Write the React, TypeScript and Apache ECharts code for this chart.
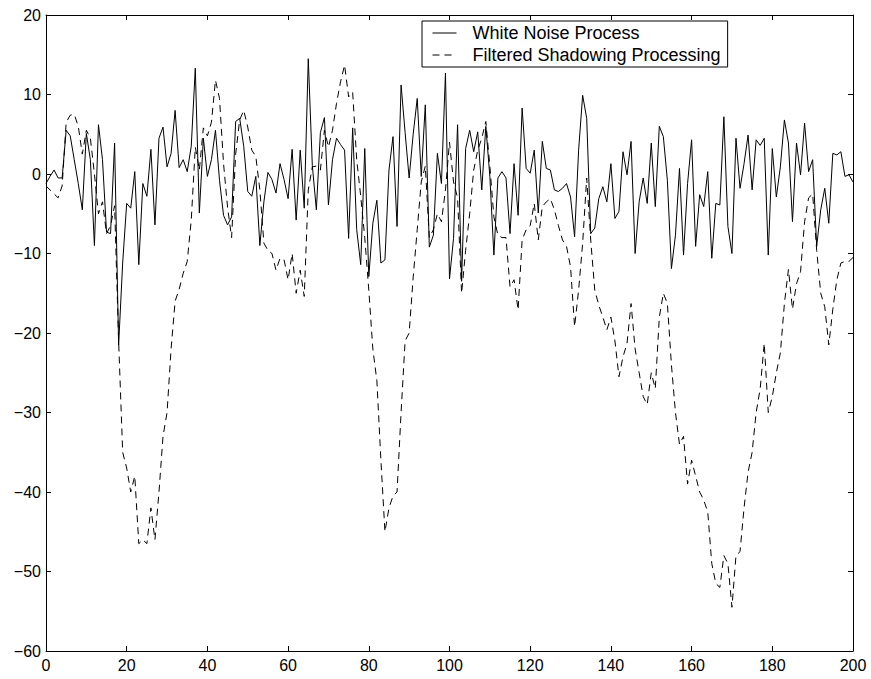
import React, { useEffect, useRef } from "react";
import * as echarts from "echarts";

// Sample index 0..200 (x) -> values
const whiteNoise: number[] = [
  -1.2, -0.3, 0.5, -0.5, -0.5, 5.5, 4.8, 1.8, -1.2, -4.5,
  5.1, 1.8, -9.0, 6.2, 1.8, -7.3, -7.5, 3.9, -21.5, -11.2,
  -3.7, -4.3, 0.3, -11.4, -1.2, -2.8, 3.1, -6.4, 4.5, 5.9,
  0.9, 2.6, 8.0, 0.8, 1.8, 0.3, 3.5, 13.3, -4.9, 4.5,
  -0.3, 1.8, 5.5, -0.8, -5.2, -6.4, -5.4, 6.6, 7.0, 3.5,
  -2.2, -2.8, -0.3, -9.0, -3.5, 0.2, -0.7, -2.4, 1.3, -0.7,
  -3.1, 3.1, -5.8, 3.0, -4.3, 14.5, 1.1, -4.5, 5.2, 7.1,
  -3.9, 1.8, 4.5, 3.7, 3.0, -8.1, 5.8, -7.0, -11.4, 3.2,
  -12.9, -6.2, -3.3, -11.2, -10.8, 0.5, 4.7, -6.6, 11.2, 5.2,
  -0.5, 5.0, 9.5, -0.3, 8.7, -9.2, -7.7, 2.6, -1.2, 12.7,
  -13.2, -8.1, 6.2, -13.5, 3.2, 5.5, 2.8, 5.3, -2.0, 6.0,
  -0.3, -10.2, -0.5, 0.3, -0.5, -7.5, 1.3, -5.2, 8.3, 0.7,
  0.1, 3.0, -4.9, 4.1, 0.7, 0.5, -2.0, -2.2, -1.8, -1.2,
  -2.9, -7.9, 3.0, 9.9, 7.0, -7.5, -6.8, -3.1, -1.6, -3.5,
  1.3, -5.6, -4.7, 2.8, -0.1, 4.1, -10.0, -3.5, -0.5, -3.7,
  3.9, -4.1, 6.0, 4.7, -0.8, -11.9, -7.7, 0.7, -10.2, -1.2,
  4.3, -9.1, -2.6, -4.1, 0.3, -10.6, -3.7, -3.9, 7.2, -6.6,
  -10.0, 4.5, -1.8, 1.3, 4.9, -2.0, 4.3, 3.6, 4.5, -10.2,
  3.2, -2.9, 0.9, 6.8, 3.9, -6.0, 3.9, -0.1, 6.4, 0.3,
  1.8, -9.1, -4.5, -1.8, -6.2, 2.6, 2.4, 2.8, -0.3, -0.1,
  -1.0,
];

const shadowing: number[] = [
  -1.5, -2, -2.5, -3, -1.5, 6.5, 7.4, 7.5, 6, 2.5,
  5.5, 4.5, 0, -5, -3.5, -7.5, -6.5, -4, -21, -35,
  -37, -40, -38, -46.5, -46, -46.5, -42, -46, -40, -33,
  -30, -22, -16, -14.5, -12.5, -11, -5.8, 3.4, 0.5, 5.8,
  4.8, 6.5, 11.8, 9.5, 1.3, -4.2, -8, 2.5, 6.8, 8,
  5.9, 3, 2.2, -2, -8.7, -9.6, -10, -12.1, -10.6, -10.8,
  -13.3, -10, -15, -12.1, -15.4, -2, 0.9, 1, 0.5, 5.5,
  3.4, 5.5, 8.9, 11.6, 13.7, 9.7, 10.3, 1.8, -2.8, -8,
  -14.6, -22, -26, -36, -45, -42, -40.5, -40, -30, -21,
  -20, -13, -7, -1, 1, -8, -7, -5, -6, -2,
  4, -1, -3, -15, -9.6, -5, 0.5, 3, 4.5, 6.6,
  1, -5.4, -7.7, -8, -8, -14.2, -13.3, -17.1, -8.3, -7,
  -6.5, -3.7, -8.3, -4.1, -3.5, -3.1, -4.5, -6.5, -8.3, -9.1,
  -11.7, -19.2, -14.6, -8.7, -0.5, -8.3, -14.6, -16.5, -18, -19.6,
  -18, -21, -25.5, -23, -21.3, -16.3, -22, -25, -28, -29,
  -25, -27, -18, -15, -16.3, -24, -30, -34, -33, -39,
  -36, -38, -40, -41, -42.5, -49, -51.5, -52, -48, -49,
  -54.5, -48, -47.5, -42, -37.5, -35, -30, -27, -21.3, -30,
  -28, -25, -22.5, -16.3, -12, -17, -13.8, -12.3, -6, -3,
  -2.5, -9.6, -15, -16.7, -21.5, -17, -13.3, -11.2, -11, -11,
  -10.5,
];

const seriesNames = ["White Noise Process", "Filtered Shadowing Processing"];
const xTicks = { min: 0, max: 200, interval: 20 };
const yTicks = { min: -60, max: 20, interval: 10 };

const FONT = "'Liberation Sans', Arial, Helvetica, sans-serif";

export default function App() {
  const ref = useRef<HTMLDivElement>(null);

  useEffect(() => {
    if (!ref.current) return;
    const chart = echarts.init(ref.current, undefined, { renderer: "svg" });
    const fmt = (v: number) => String(v).replace("-", "\u2212");
    const axisLine = { show: true, onZero: false, lineStyle: { color: "#000", width: 1 } };
    const tick = { show: true, inside: true, length: 5, lineStyle: { color: "#000", width: 1 } };
    const label = { color: "#000", fontSize: 16, fontFamily: FONT };

    chart.setOption({
      animation: false,
      backgroundColor: "#fff",
      grid: { left: 46, right: 18, top: 15, bottom: 28, containLabel: false },
      legend: {
        show: true,
        orient: "vertical",
        left: 422,
        top: 21,
        backgroundColor: "#fff",
        borderColor: "#000",
        borderWidth: 1,
        borderRadius: 0,
        padding: [3, 7, 3, 10],
        itemWidth: 24,
        itemHeight: 14,
        itemGap: 4,
        itemStyle: { opacity: 0, borderWidth: 0 },
        lineStyle: { color: "#000", width: 1 },
        textStyle: { color: "#000", fontSize: 18, fontFamily: FONT, padding: [0, 0, 0, 11] },
        data: seriesNames.map((n) => ({ name: n })),
      },
      xAxis: [
        {
          type: "value",
          min: xTicks.min,
          max: xTicks.max,
          interval: xTicks.interval,
          position: "bottom",
          axisLine,
          axisTick: tick,
          axisLabel: { ...label, margin: 6, formatter: fmt },
          splitLine: { show: false },
        },
        {
          type: "value",
          min: xTicks.min,
          max: xTicks.max,
          interval: xTicks.interval,
          position: "top",
          axisLine,
          axisTick: tick,
          axisLabel: { show: false },
          splitLine: { show: false },
        },
      ],
      yAxis: [
        {
          type: "value",
          min: yTicks.min,
          max: yTicks.max,
          interval: yTicks.interval,
          position: "left",
          axisLine,
          axisTick: tick,
          axisLabel: { ...label, margin: 5, formatter: fmt },
          splitLine: { show: false },
        },
        {
          type: "value",
          min: yTicks.min,
          max: yTicks.max,
          interval: yTicks.interval,
          position: "right",
          axisLine,
          axisTick: tick,
          axisLabel: { show: false },
          splitLine: { show: false },
        },
      ],
      series: [
        {
          name: seriesNames[0],
          type: "line",
          xAxisIndex: 0,
          yAxisIndex: 0,
          showSymbol: false,
          symbol: "none",
          lineStyle: { color: "#000", width: 1, type: "solid" },
          itemStyle: { color: "#000" },
          data: whiteNoise.map((v, i) => [i, v]),
        },
        {
          name: seriesNames[1],
          type: "line",
          xAxisIndex: 0,
          yAxisIndex: 0,
          showSymbol: false,
          symbol: "none",
          lineStyle: { color: "#000", width: 1, type: [7, 5] },
          itemStyle: { color: "#000" },
          data: shadowing.map((v, i) => [i, v]),
        },
      ],
    });
    return () => chart.dispose();
  }, []);

  return (
    <div
      ref={ref}
      style={{ position: "fixed", left: 0, top: 0, width: 871, height: 679, background: "#fff" }}
    />
  );
}
